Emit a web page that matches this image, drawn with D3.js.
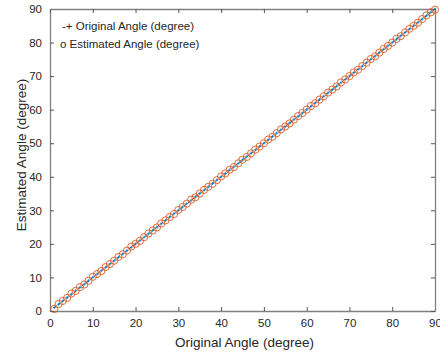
<!DOCTYPE html>
<html>
<head>
<meta charset="utf-8">
<script src="https://cdn.jsdelivr.net/npm/d3@7"></script>
<style>
  body { margin: 0; background: #fff; }
  text { font-family: "Liberation Sans", Arial, sans-serif; fill: #262626; }
</style>
</head>
<body>
<svg id="angle_chart"></svg>
<script>
  'use strict';

  // true angles and the estimates for each of them
  var original = [1, 2, 3, 4, 5, 6, 7, 8, 9, 10,
    11, 12, 13, 14, 15, 16, 17, 18, 19, 20,
    21, 22, 23, 24, 25, 26, 27, 28, 29, 30,
    31, 32, 33, 34, 35, 36, 37, 38, 39, 40,
    41, 42, 43, 44, 45, 46, 47, 48, 49, 50,
    51, 52, 53, 54, 55, 56, 57, 58, 59, 60,
    61, 62, 63, 64, 65, 66, 67, 68, 69, 70,
    71, 72, 73, 74, 75, 76, 77, 78, 79, 80,
    81, 82, 83, 84, 85, 86, 87, 88, 89, 90];
  var estimated = [0.6, 2.1, 3.0, 3.9, 5.2, 6.0, 7.1, 7.9, 9.0, 10.2,
    11.0, 11.9, 13.1, 14.0, 15.0, 16.1, 16.9, 18.0, 19.2, 20.0,
    20.9, 22.0, 23.1, 24.0, 24.9, 26.1, 27.0, 28.0, 28.9, 30.1,
    31.0, 32.0, 33.2, 33.9, 35.0, 36.1, 37.0, 37.9, 39.0, 40.1,
    41.0, 42.1, 42.9, 44.0, 45.1, 45.9, 47.0, 48.1, 49.0, 50.0,
    51.1, 51.9, 53.0, 54.1, 55.0, 55.9, 57.0, 58.1, 59.0, 60.0,
    61.1, 61.9, 63.0, 64.0, 65.1, 66.0, 66.9, 68.1, 69.0, 70.0,
    71.1, 71.9, 73.0, 74.0, 75.1, 75.9, 77.0, 78.1, 79.0, 80.0,
    81.1, 81.9, 83.0, 84.1, 85.0, 85.9, 87.0, 88.1, 89.0, 89.8];
  var xTicks = [0, 10, 20, 30, 40, 50, 60, 70, 80, 90];
  var yTicks = [0, 10, 20, 30, 40, 50, 60, 70, 80, 90];
  var legendLabels = ['-+ Original Angle (degree)', 'o Estimated Angle (degree)'];

  var W = 440, H = 356;
  var margin = {top: 9, right: 5, bottom: 45, left: 50};
  var width = W - margin.left - margin.right;
  var height = H - margin.top - margin.bottom;

  var svg = d3.select('#angle_chart')
      .attr('width', W)
      .attr('height', H)
    .append('g')
      .attr('transform', `translate(${margin.left}, ${margin.top})`);

  var xScale = d3.scaleLinear().domain([0, 90]).range([0, width]);
  var yScale = d3.scaleLinear().domain([0, 90]).range([height, 0]);

  var axisColor = '#808080';

  // axes with inward ticks on all four sides
  function styleAxis(g) {
    g.select('.domain').attr('stroke', axisColor).attr('stroke-width', 1.3);
    g.selectAll('.tick line').attr('stroke', '#555');
    g.selectAll('.tick text').style('font-size', '11.5px').attr('fill', '#262626');
  }

  svg.append('g')
      .attr('transform', `translate(0, ${height})`)
      .call(d3.axisBottom(xScale).tickValues(xTicks).tickSizeInner(-4).tickSizeOuter(0).tickPadding(8))
      .call(styleAxis);
  svg.append('g')
      .call(d3.axisLeft(yScale).tickValues(yTicks).tickSizeInner(-4).tickSizeOuter(0).tickPadding(8))
      .call(styleAxis);
  svg.append('g')
      .call(d3.axisTop(xScale).tickValues(xTicks).tickSizeInner(-4).tickSizeOuter(0).tickFormat(''))
      .call(styleAxis);
  svg.append('g')
      .attr('transform', `translate(${width}, 0)`)
      .call(d3.axisRight(yScale).tickValues(yTicks).tickSizeInner(-4).tickSizeOuter(0).tickFormat(''))
      .call(styleAxis);

  var data = original.map((d, i) => ({x: d, est: estimated[i]}));

  // original angle: dashed blue line with + markers
  var line = d3.line()
    .x(d => xScale(d.x))
    .y(d => yScale(d.x));

  svg.append('path')
    .datum(data)
    .attr('fill', 'none')
    .attr('stroke', '#0072BD')
    .attr('stroke-width', 1)
    .attr('stroke-dasharray', '3,2')
    .attr('d', line);

  svg.selectAll('.plus')
    .data(data)
    .enter().append('path')
      .attr('class', 'plus')
      .attr('d', d => {
        var cx = xScale(d.x), cy = yScale(d.x);
        return `M${cx - 1.5},${cy}H${cx + 1.5}M${cx},${cy - 1.5}V${cy + 1.5}`;
      })
      .attr('stroke', '#0072BD')
      .attr('stroke-width', 0.8);

  // estimated angle: open orange circles
  svg.selectAll('.est')
    .data(data)
    .enter().append('circle')
      .attr('class', 'est')
      .attr('cx', d => xScale(d.x))
      .attr('cy', d => yScale(d.est))
      .attr('r', 3.6)
      .attr('fill', 'none')
      .attr('stroke', '#D95319')
      .attr('stroke-opacity', 0.85)
      .attr('stroke-width', 1);

  // legend, text only
  svg.selectAll('.legend')
    .data(legendLabels)
    .enter().append('text')
      .attr('class', 'legend')
      .attr('x', (d, i) => i === 0 ? 12 : 10)
      .attr('y', (d, i) => 21 + i * 18)
      .style('font-size', '11.5px')
      .text(d => d);

  // axis titles
  svg.append('text')
    .attr('x', width / 2 + 2)
    .attr('y', height + 36)
    .style('text-anchor', 'middle')
    .style('font-size', '13.5px')
    .text('Original Angle (degree)');

  svg.append('text')
    .attr('transform', 'rotate(-90)')
    .attr('x', -height / 2 + 5)
    .attr('y', -24)
    .style('text-anchor', 'middle')
    .style('font-size', '13.5px')
    .text('Estimated Angle (degree)');
</script>
</body>
</html>
